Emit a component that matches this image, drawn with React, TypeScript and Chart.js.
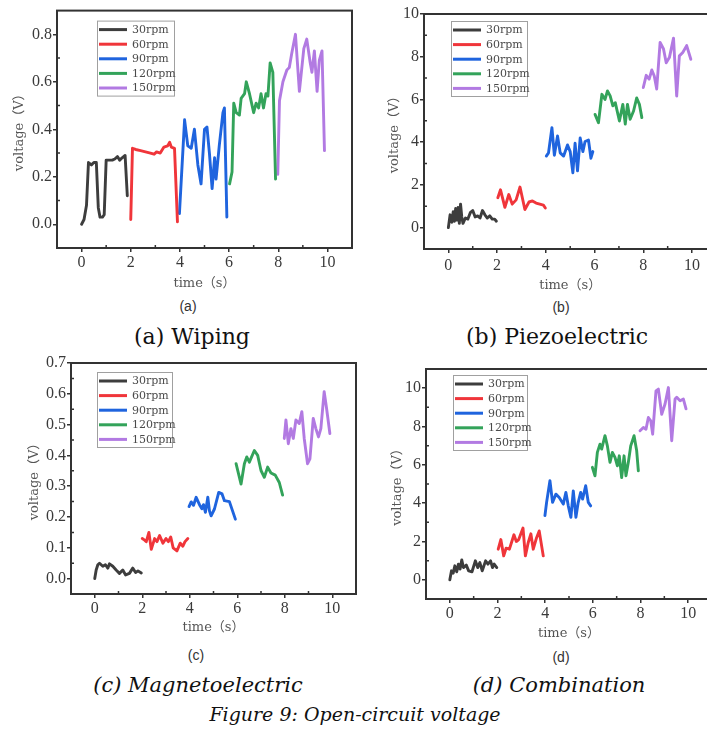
import React, { useEffect, useRef } from "react";
import { Chart, registerables } from "chart.js";

Chart.register(...registerables);

// ---------- shared labels / colours ----------
const legendLabels = ["30rpm", "60rpm", "90rpm", "120rpm", "150rpm"];
const seriesColors = ["#3d3d3d", "#f0353a", "#1f64de", "#33a35a", "#b27ae2"];
const xTickValues = [0, 2, 4, 6, 8, 10];
const xMinorValues = [1, 3, 5, 7, 9];

// ---------- (a) Wiping ----------
const aT30 = [0, 0.1, 0.2, 0.28, 0.4, 0.5, 0.6, 0.68, 0.75, 0.85, 0.92, 1.0, 1.12, 1.25, 1.35, 1.46, 1.55, 1.65, 1.77, 1.86];
const aV30 = [0, 0.02, 0.08, 0.26, 0.25, 0.26, 0.26, 0.07, 0.03, 0.03, 0.04, 0.27, 0.27, 0.27, 0.275, 0.285, 0.27, 0.28, 0.29, 0.12];
const aT60 = [2.0, 2.07, 2.2, 2.4, 2.6, 2.8, 2.95, 3.05, 3.2, 3.35, 3.5, 3.58, 3.65, 3.78, 3.9];
const aV60 = [0.02, 0.32, 0.315, 0.31, 0.305, 0.3, 0.295, 0.305, 0.3, 0.325, 0.33, 0.345, 0.325, 0.32, 0.01];
const aT90 = [3.98, 4.19, 4.32, 4.46, 4.59, 4.73, 4.86, 5.0, 5.1, 5.2, 5.31, 5.41, 5.47, 5.6, 5.75, 5.81, 5.91];
const aV90 = [0.045, 0.44, 0.33, 0.32, 0.4, 0.25, 0.17, 0.4, 0.41, 0.3, 0.15, 0.28, 0.19, 0.33, 0.47, 0.49, 0.03];
const aT120 = [6.02, 6.12, 6.19, 6.29, 6.42, 6.49, 6.63, 6.7, 6.83, 7.0, 7.1, 7.2, 7.3, 7.4, 7.5, 7.58, 7.67, 7.78, 7.89];
const aV120 = [0.17, 0.22, 0.51, 0.47, 0.46, 0.53, 0.55, 0.6, 0.55, 0.47, 0.51, 0.49, 0.55, 0.49, 0.55, 0.54, 0.68, 0.64, 0.19];
const aT150 = [7.98, 8.05, 8.19, 8.35, 8.45, 8.55, 8.7, 8.86, 9.04, 9.16, 9.3, 9.37, 9.47, 9.58, 9.67, 9.78, 9.88];
const aV150 = [0.21, 0.52, 0.6, 0.65, 0.66, 0.72, 0.8, 0.56, 0.74, 0.78, 0.68, 0.64, 0.73, 0.56, 0.69, 0.73, 0.31];
const aYTicks = [0, 0.2, 0.4, 0.6, 0.8];
const aYMinor = [0.1, 0.3, 0.5, 0.7];

// ---------- (b) Piezoelectric ----------
const bT30 = [0, 0.07, 0.14, 0.2, 0.25, 0.3, 0.35, 0.4, 0.45, 0.5, 0.55, 0.6, 0.7, 0.8, 0.9, 1.0, 1.1, 1.2, 1.3, 1.4, 1.5, 1.6, 1.7, 1.8, 1.9, 1.97];
const bV30 = [0, 0.6, 0.25, 0.75, 0.3, 0.9, 0.35, 0.95, 0.2, 1.1, 0.5, 0.2, 0.45, 0.4, 0.7, 0.8, 0.5, 0.55, 0.45, 0.8, 0.6, 0.45, 0.55, 0.4, 0.4, 0.3];
const bT60 = [2.03, 2.14, 2.32, 2.48, 2.62, 2.78, 2.94, 3.14, 3.31, 3.45, 3.6, 3.75, 3.9, 3.98];
const bV60 = [1.4, 1.77, 0.95, 1.55, 1.1, 1.3, 1.9, 0.85, 1.2, 1.25, 1.15, 1.1, 1.05, 0.92];
const bT90 = [4.02, 4.11, 4.25, 4.35, 4.48, 4.59, 4.73, 4.89, 5.0, 5.11, 5.2, 5.3, 5.41, 5.52, 5.61, 5.75, 5.85, 5.93];
const bV90 = [3.35, 3.5, 4.68, 3.39, 4.29, 3.5, 3.35, 3.87, 3.56, 2.57, 3.95, 2.66, 4.2, 3.56, 4.03, 4.1, 3.25, 3.56];
const bT120 = [6.02, 6.16, 6.3, 6.43, 6.53, 6.64, 6.75, 6.85, 7.02, 7.16, 7.26, 7.35, 7.46, 7.6, 7.73, 7.84, 7.94];
const bV120 = [5.3, 4.91, 6.24, 6.0, 6.4, 6.17, 5.7, 5.85, 4.99, 5.77, 4.85, 5.77, 5.07, 5.46, 6.07, 5.77, 5.15];
const bT150 = [8.0, 8.12, 8.24, 8.35, 8.45, 8.55, 8.69, 8.83, 8.94, 9.07, 9.24, 9.37, 9.48, 9.62, 9.78, 9.95];
const bV150 = [6.56, 7.13, 6.95, 7.38, 7.1, 6.49, 8.67, 8.36, 7.72, 7.96, 8.87, 6.16, 8.04, 8.2, 8.52, 7.88];
const bYTicks = [0, 2, 4, 6, 8, 10];
const bYMinor = [1, 3, 5, 7, 9];

// ---------- (c) Magnetoelectric ----------
const cT30 = [0, 0.06, 0.13, 0.2, 0.34, 0.45, 0.55, 0.62, 0.76, 0.9, 1.04, 1.18, 1.3, 1.46, 1.6, 1.72, 1.82, 1.96];
const cV30 = [0, 0.028, 0.045, 0.05, 0.04, 0.045, 0.034, 0.048, 0.04, 0.028, 0.017, 0.028, 0.012, 0.017, 0.034, 0.02, 0.025, 0.018];
const cT60 = [2.0, 2.1, 2.17, 2.28, 2.38, 2.52, 2.62, 2.73, 2.87, 3.0, 3.1, 3.2, 3.3, 3.46, 3.6, 3.71, 3.8, 3.92];
const cV60 = [0.13, 0.125, 0.12, 0.15, 0.095, 0.13, 0.12, 0.14, 0.115, 0.13, 0.12, 0.135, 0.1, 0.09, 0.115, 0.105, 0.12, 0.13];
const cT90 = [3.97, 4.06, 4.16, 4.27, 4.41, 4.51, 4.58, 4.66, 4.76, 4.83, 4.9, 5.04, 5.22, 5.36, 5.46, 5.67, 5.92];
const cV90 = [0.234, 0.249, 0.238, 0.264, 0.24, 0.227, 0.24, 0.215, 0.264, 0.22, 0.204, 0.226, 0.28, 0.275, 0.253, 0.25, 0.193];
const cT120 = [5.95, 6.16, 6.3, 6.4, 6.51, 6.72, 6.86, 7.0, 7.14, 7.28, 7.42, 7.6, 7.77, 7.91];
const cV120 = [0.373, 0.307, 0.373, 0.395, 0.378, 0.416, 0.4, 0.351, 0.329, 0.362, 0.343, 0.336, 0.312, 0.271];
const cT150 = [7.98, 8.05, 8.15, 8.26, 8.36, 8.47, 8.61, 8.72, 8.82, 8.96, 9.06, 9.2, 9.31, 9.42, 9.52, 9.66, 9.76, 9.9];
const cV150 = [0.455, 0.515, 0.438, 0.487, 0.455, 0.515, 0.504, 0.542, 0.455, 0.373, 0.389, 0.52, 0.487, 0.46, 0.487, 0.607, 0.553, 0.471];
const cYTicks = [0, 0.1, 0.2, 0.3, 0.4, 0.5, 0.6, 0.7];
const cYMinor = [0.05, 0.15, 0.25, 0.35, 0.45, 0.55, 0.65];

// ---------- (d) Combination ----------
const dT30 = [0, 0.07, 0.14, 0.21, 0.29, 0.36, 0.43, 0.5, 0.57, 0.69, 0.79, 0.93, 1.07, 1.17, 1.26, 1.36, 1.5, 1.6, 1.71, 1.79, 1.86, 1.97];
const dV30 = [0, 0.47, 0.35, 0.73, 0.42, 0.82, 0.56, 1.04, 0.64, 0.77, 0.47, 0.42, 0.99, 0.64, 0.9, 0.47, 0.99, 0.82, 0.99, 0.64, 0.82, 0.64];
const dT60 = [2.03, 2.14, 2.26, 2.36, 2.5, 2.69, 2.79, 2.89, 3.07, 3.17, 3.29, 3.4, 3.5, 3.64, 3.75, 3.92];
const dV60 = [1.6, 2.1, 1.25, 1.65, 1.6, 2.35, 2.0, 2.1, 2.7, 1.25, 1.95, 2.4, 1.6, 2.2, 2.55, 1.25];
const dT90 = [3.99, 4.06, 4.2, 4.31, 4.45, 4.59, 4.76, 4.87, 4.97, 5.08, 5.18, 5.29, 5.38, 5.49, 5.57, 5.7, 5.81, 5.91];
const dV90 = [3.35, 4.04, 5.17, 4.04, 4.47, 4.3, 3.95, 4.56, 3.86, 3.26, 4.64, 3.26, 4.0, 4.56, 4.21, 4.91, 4.04, 3.86];
const dT120 = [5.98, 6.09, 6.19, 6.3, 6.37, 6.51, 6.61, 6.72, 6.82, 6.93, 7.03, 7.11, 7.21, 7.31, 7.39, 7.49, 7.59, 7.73, 7.84, 7.91];
const dV120 = [5.87, 5.43, 6.65, 7.08, 6.82, 7.52, 6.99, 6.13, 6.65, 6.39, 5.95, 6.47, 5.34, 6.47, 5.43, 6.13, 6.99, 7.52, 6.73, 5.69];
const dT150 = [7.98, 8.12, 8.23, 8.33, 8.43, 8.51, 8.65, 8.75, 8.89, 9.03, 9.17, 9.31, 9.45, 9.52, 9.66, 9.8, 9.91];
const dV150 = [7.78, 7.95, 7.86, 8.47, 8.3, 7.6, 9.86, 9.95, 8.64, 9.17, 10.03, 7.26, 9.43, 9.52, 9.34, 9.43, 8.92];
const dYTicks = [0, 2, 4, 6, 8, 10];
const dYMinor = [1, 3, 5, 7, 9];

// ---------- text ----------
const xTitle = "time（s）";
const yTitle = "voltage（V）";

type Panel = {
  key: string;
  left: number; top: number; width: number; height: number;
  padTop: number; padRight: number;
  yWidth: number; xHeight: number;
  yMin: number; yMax: number; yTicks: number[]; yMinor: number[]; decimals: number;
  xTitlePad: number; yTitlePad: number; xTickPad: number;
  legendDx: number; legendDy: number; legendW: number;
  series: [number[], number[]][];
};

const panels: Panel[] = [
  {
    key: "a", left: 0, top: 0, width: 360, height: 295, padTop: 9, padRight: 8,
    yWidth: 57, xHeight: 47, yMin: -0.1, yMax: 0.9, yTicks: aYTicks, yMinor: aYMinor, decimals: 1,
    xTitlePad: 4, yTitlePad: 12, xTickPad: 1, legendDx: 40, legendDy: 10, legendW: 77,
    series: [[aT30, aV30], [aT60, aV60], [aT90, aV90], [aT120, aV120], [aT150, aV150]],
  },
  {
    key: "b", left: 360, top: 0, width: 360, height: 295, padTop: 14, padRight: 3.6,
    yWidth: 64, xHeight: 46, yMin: -1, yMax: 10, yTicks: bYTicks, yMinor: bYMinor, decimals: 0,
    xTitlePad: 2, yTitlePad: 27, xTickPad: 3, legendDx: 27, legendDy: 7, legendW: 76,
    series: [[bT30, bV30], [bT60, bV60], [bT90, bV90], [bT120, bV120], [bT150, bV150]],
  },
  {
    key: "c", left: 0, top: 350, width: 360, height: 295, padTop: 13, padRight: 4,
    yWidth: 71, xHeight: 51, yMin: -0.05, yMax: 0.7, yTicks: cYTicks, yMinor: cYMinor, decimals: 1,
    xTitlePad: 10, yTitlePad: 27, xTickPad: 1, legendDx: 26, legendDy: 9, legendW: 75,
    series: [[cT30, cV30], [cT60, cV60], [cT90, cV90], [cT120, cV120], [cT150, cV150]],
  },
  {
    key: "d", left: 360, top: 350, width: 360, height: 295, padTop: 19, padRight: 8,
    yWidth: 66, xHeight: 46, yMin: -1, yMax: 11, yTicks: dYTicks, yMinor: dYMinor, decimals: 0,
    xTitlePad: 4, yTitlePad: 30, xTickPad: 1, legendDx: 27, legendDy: 6, legendW: 74,
    series: [[dT30, dV30], [dT60, dV60], [dT90, dV90], [dT120, dV120], [dT150, dV150]],
  },
];

const AXIS = "#333333";
const TICK_FONT = { family: "'Liberation Serif', 'Times New Roman', serif", size: 16 };
const TITLE_FONT = { family: "'DejaVu Serif', 'Noto Sans CJK SC', serif", size: 13 };

function makeFramePlugin(p: Panel) {
  return {
    id: "frame_" + p.key,
    afterDatasetsDraw(chart: any) {
      const { ctx, chartArea: a, scales } = chart;
      const xs = scales.x;
      const ys = scales.y;
      ctx.save();
      // minor ticks (inward)
      ctx.strokeStyle = AXIS;
      ctx.lineWidth = 1.5;
      ctx.beginPath();
      for (const v of xMinorValues) {
        const px = xs.getPixelForValue(v);
        ctx.moveTo(px, a.bottom);
        ctx.lineTo(px, a.bottom - 3);
      }
      for (const v of p.yMinor) {
        const py = ys.getPixelForValue(v);
        ctx.moveTo(a.left, py);
        ctx.lineTo(a.left + 3, py);
      }
      ctx.stroke();
      // frame
      ctx.lineWidth = 2;
      ctx.strokeRect(a.left, a.top, a.right - a.left, a.bottom - a.top);
      // legend box
      const bx = a.left + p.legendDx;
      const by = a.top + p.legendDy;
      const bh = 75;
      ctx.fillStyle = "#ffffff";
      ctx.fillRect(bx, by, p.legendW, bh);
      ctx.strokeStyle = "#a0a0a0";
      ctx.lineWidth = 1;
      ctx.strokeRect(bx + 0.5, by + 0.5, p.legendW, bh);
      ctx.font = "11px 'DejaVu Serif', serif";
      ctx.textBaseline = "middle";
      ctx.textAlign = "left";
      legendLabels.forEach((lab, i) => {
        const ry = by + 9 + i * 14.6;
        ctx.strokeStyle = seriesColors[i];
        ctx.lineWidth = 3;
        ctx.beginPath();
        ctx.moveTo(bx + 2, ry);
        ctx.lineTo(bx + 30, ry);
        ctx.stroke();
        ctx.fillStyle = "#4a4a4a";
        ctx.fillText(lab, bx + 35, ry + 0.5);
      });
      ctx.restore();
    },
  };
}

function PanelChart({ p }: { p: Panel }) {
  const ref = useRef<HTMLCanvasElement | null>(null);
  useEffect(() => {
    if (!ref.current) return;
    const datasets = p.series.map(([ts, vs], i) => ({
      label: legendLabels[i],
      data: ts.map((t, j) => ({ x: t, y: vs[j] })),
      borderColor: seriesColors[i],
      backgroundColor: seriesColors[i],
      borderWidth: 2.9,
      pointRadius: 0,
      tension: 0,
      borderJoinStyle: "round" as const,
      borderCapStyle: "round" as const,
      fill: false,
    }));
    const chart = new Chart(ref.current, {
      type: "line",
      data: { datasets },
      options: {
        responsive: false,
        animation: false,
        layout: { padding: { left: 0, top: p.padTop, right: p.padRight, bottom: 0 } },
        plugins: { legend: { display: false }, tooltip: { enabled: false } },
        scales: {
          x: {
            type: "linear",
            min: -1,
            max: 11,
            afterBuildTicks: (s: any) => {
              s.ticks = xTickValues.map((v) => ({ value: v }));
            },
            afterFit: (s: any) => {
              s.height = p.xHeight;
            },
            grid: { display: true, drawOnChartArea: false, drawTicks: true, tickLength: 4, color: AXIS, lineWidth: 1.5 },
            border: { display: false },
            ticks: {
              font: TICK_FONT, color: "#3a3a3a", padding: p.xTickPad, maxRotation: 0, autoSkip: false,
              callback: (v: any) => String(v),
            },
            title: { display: true, text: xTitle, font: TITLE_FONT, color: "#555555", padding: { top: 0, bottom: p.xTitlePad } },
          },
          y: {
            type: "linear",
            min: p.yMin,
            max: p.yMax,
            afterBuildTicks: (s: any) => {
              s.ticks = p.yTicks.map((v) => ({ value: v }));
            },
            afterFit: (s: any) => {
              s.width = p.yWidth;
            },
            grid: { display: true, drawOnChartArea: false, drawTicks: true, tickLength: 4, color: AXIS, lineWidth: 1.5 },
            border: { display: false },
            ticks: {
              font: TICK_FONT, color: "#3a3a3a", padding: 1, autoSkip: false,
              callback: (v: any) => Number(v).toFixed(p.decimals),
            },
            title: { display: true, text: yTitle, font: TITLE_FONT, color: "#555555", padding: { top: p.yTitlePad, bottom: 0 } },
          },
        },
      },
      plugins: [makeFramePlugin(p)],
    } as any);
    return () => chart.destroy();
  }, [p]);
  return (
    <canvas
      ref={ref}
      width={p.width}
      height={p.height}
      style={{ position: "absolute", left: p.left, top: p.top, width: p.width, height: p.height }}
    />
  );
}

type Cap = { text: string; cx: number; cy: number; size: number; family: string; italic?: boolean; color: string };

const captions: Cap[] = [
  { text: "(a)", cx: 188, cy: 306, size: 14, family: "'Liberation Sans', Arial, sans-serif", color: "#333" },
  { text: "(b)", cx: 561, cy: 307, size: 14, family: "'Liberation Sans', Arial, sans-serif", color: "#333" },
  { text: "(a) Wiping", cx: 192, cy: 337, size: 22, family: "'DejaVu Serif', serif", color: "#111" },
  { text: "(b) Piezoelectric", cx: 557, cy: 337, size: 22, family: "'DejaVu Serif', serif", color: "#111" },
  { text: "(c)", cx: 196, cy: 655, size: 14, family: "'Liberation Sans', Arial, sans-serif", color: "#333" },
  { text: "(d)", cx: 561, cy: 657, size: 14, family: "'Liberation Sans', Arial, sans-serif", color: "#333" },
  { text: "(c) Magnetoelectric", cx: 198, cy: 686, size: 21, family: "'DejaVu Serif', serif", italic: true, color: "#111" },
  { text: "(d) Combination", cx: 559, cy: 686, size: 21, family: "'DejaVu Serif', serif", italic: true, color: "#111" },
  { text: "Figure 9: Open-circuit voltage", cx: 355, cy: 714, size: 19, family: "'DejaVu Serif', serif", italic: true, color: "#111" },
];

export default function App() {
  useEffect(() => {
    document.body.style.margin = "0";
  }, []);
  return (
    <div
      style={{
        position: "absolute", left: 0, top: 0, width: 707, height: 729,
        overflow: "hidden", background: "#ffffff",
      }}
    >
      {panels.map((p) => (
        <PanelChart key={p.key} p={p} />
      ))}
      {captions.map((c, i) => (
        <div
          key={i}
          style={{
            position: "absolute",
            left: c.cx - 200,
            width: 400,
            top: c.cy - c.size * 0.6,
            height: c.size * 1.2,
            lineHeight: `${c.size * 1.2}px`,
            textAlign: "center",
            fontFamily: c.family,
            fontSize: c.size,
            fontStyle: c.italic ? "italic" : "normal",
            color: c.color,
            whiteSpace: "nowrap",
          }}
        >
          {c.text}
        </div>
      ))}
    </div>
  );
}
